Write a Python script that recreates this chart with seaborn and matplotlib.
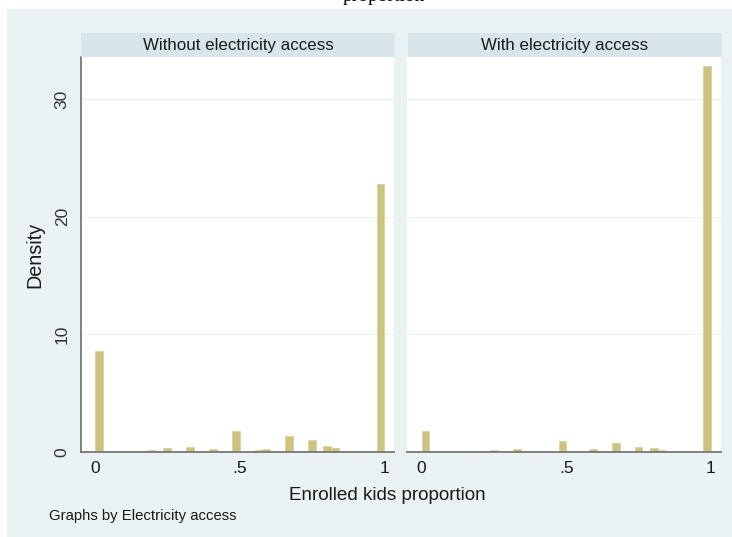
import numpy as np
import pandas as pd
import matplotlib
matplotlib.use("Agg")
import matplotlib.pyplot as plt
import seaborn as sns
from matplotlib.patches import Rectangle

# Histogram densities of the share of enrolled kids, 38 equal-width bins on [0, 1]
panel_titles = ["Without electricity access", "With electricity access"]
n_bins = 38
density_without = [8.56, 0, 0, 0, 0.06, 0.06, 0.06, 0.17, 0, 0.31,
                   0.08, 0, 0.45, 0, 0.08, 0.23, 0.06, 0, 1.75, 0,
                   0, 0.14, 0.23, 0.05, 0, 1.33, 0, 0.05, 1.02, 0,
                   0.51, 0.31, 0.06, 0.06, 0.06, 0, 0, 22.77]
density_with = [1.78, 0, 0, 0, 0, 0, 0, 0.09, 0, 0.17,
                0, 0, 0.26, 0, 0, 0.08, 0.06, 0, 0.94, 0,
                0, 0.06, 0.23, 0.05, 0, 0.77, 0, 0.05, 0.43, 0,
                0.37, 0.17, 0.05, 0.05, 0.05, 0, 0, 32.8]
x_ticks = [0, 0.5, 1]
x_ticklabels = ["0", ".5", "1"]
y_ticks = [0, 10, 20, 30]
y_ticklabels = ["0", "10", "20", "30"]

edges = np.linspace(0, 1, n_bins + 1)
centers = (edges[:-1] + edges[1:]) / 2
df = pd.DataFrame({
    "proportion": np.concatenate([centers, centers]),
    "density": density_without + density_with,
    "access": [panel_titles[0]] * n_bins + [panel_titles[1]] * n_bins,
})

sns.set_theme(style="white")
plt.rcParams["font.family"] = ["Liberation Sans", "DejaVu Sans"]

W, H = 732, 537
BG = "#EAF2F3"
STRIP = "#D8E5EB"
BAR = "#CCC380"
BAR_EDGE = "#DAD3A0"
AXIS = "#777777"
TXT = "#1a1a1a"

fig = plt.figure(figsize=(W / 100, H / 100), dpi=100, facecolor="white")
fig.patches.append(Rectangle((7 / W, 0), 1 - 7 / W, 1 - 9 / H,
                             transform=fig.transFigure, facecolor=BG,
                             edgecolor="none", zorder=-5))

# Heading of the page above the graph, cut by the frame
fig.text(343 / W, 1 - 1.0 / H, "proportion", family="Liberation Serif",
         fontsize=14, va="baseline", ha="left", color="black")

def px_box(x0, y0, x1, y1):
    return [x0 / W, 1 - y1 / H, (x1 - x0) / W, (y1 - y0) / H]

panel_x = [(80.5, 394.4), (407.2, 721.1)]
plot_top, plot_bottom = 57, 452
strip_top = 33

for i, (title, (x0, x1)) in enumerate(zip(panel_titles, panel_x)):
    ax = fig.add_axes(px_box(x0, plot_top, x1, plot_bottom))
    ax.set_facecolor("white")
    sub = df[df["access"] == title]
    sns.histplot(data=sub, x="proportion", weights="density", bins=n_bins,
                 binrange=(0, 1), stat="count", ax=ax, color=BAR,
                 edgecolor=BAR_EDGE, linewidth=0.6, alpha=1)
    ax.set_xlim(-0.05, 1.035)
    ax.set_ylim(0, 33.56)
    ax.set_axisbelow(True)
    ax.yaxis.grid(True, color=BG, linewidth=1.0)
    ax.xaxis.grid(False)
    for s in ["top", "right"]:
        ax.spines[s].set_visible(False)
    ax.spines["bottom"].set_color(AXIS)
    ax.spines["bottom"].set_linewidth(1.3)
    ax.set_xticks(x_ticks)
    ax.set_xticklabels(x_ticklabels)
    ax.set_yticks(y_ticks)
    ax.tick_params(axis="x", direction="out", length=3.2, width=1.0,
                   color="#333333", labelsize=12.5, pad=3.5, labelcolor=TXT)
    if i == 0:
        ax.spines["left"].set_color(AXIS)
        ax.spines["left"].set_linewidth(1.3)
        ax.set_yticklabels(y_ticklabels, rotation=90, va="center")
        ax.tick_params(axis="y", direction="out", length=3.8, width=1.0,
                       color="#555555", labelsize=12.5, pad=4,
                       labelcolor="#333333")
    else:
        ax.spines["left"].set_visible(False)
        ax.tick_params(axis="y", left=False, labelleft=False)
    ax.set_xlabel("")
    ax.set_ylabel("")

    sax = fig.add_axes(px_box(x0 + 0.5, strip_top, x1 + 0.5, plot_top))
    sax.set_facecolor(STRIP)
    sax.set_xticks([])
    sax.set_yticks([])
    for s in sax.spines.values():
        s.set_visible(False)
    sax.text(0.5, 0.5, title, ha="center", va="center", fontsize=12.2,
             color=TXT, transform=sax.transAxes)

fig.text(35 / W, 1 - 255 / H, "Density", rotation=90, ha="center",
         va="center", fontsize=14.2, color=TXT)
fig.text(387 / W, 1 - 495 / H, "Enrolled kids proportion", ha="center",
         va="center", fontsize=13.6, color=TXT)
fig.text(49 / W, 1 - 516 / H, "Graphs by Electricity access", ha="left",
         va="center", fontsize=10.7, color=TXT)

fig.savefig("out.png", dpi=100, facecolor=fig.get_facecolor())
